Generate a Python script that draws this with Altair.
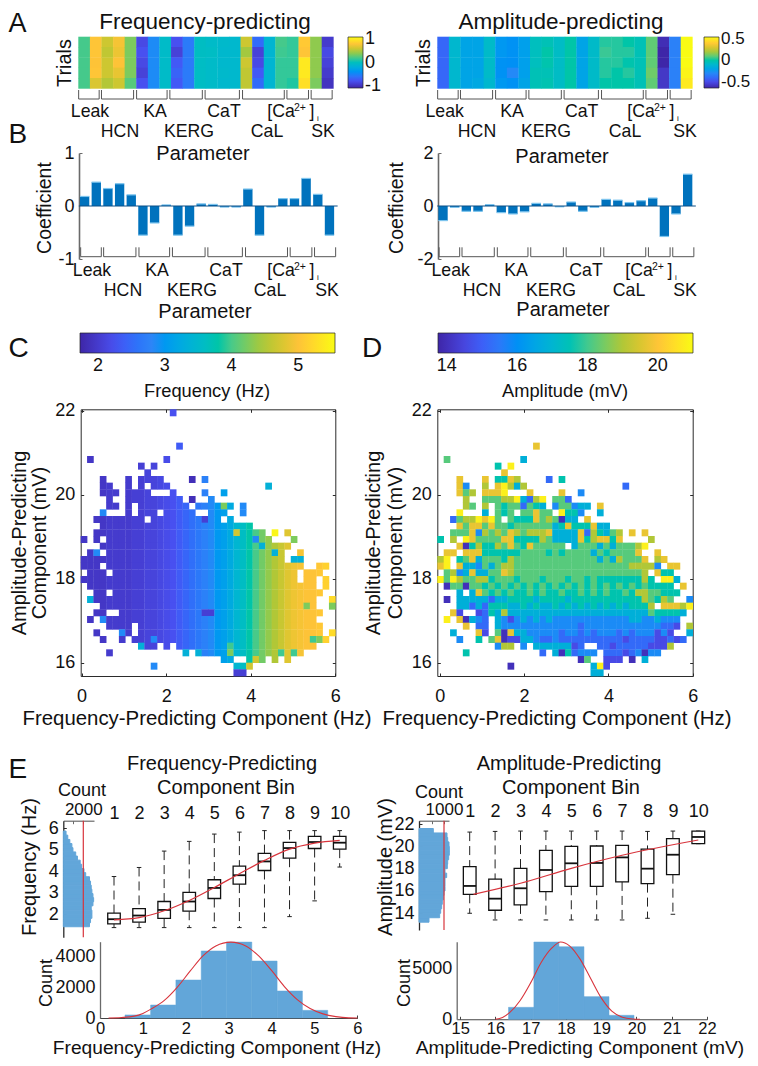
import altair as alt
import pandas as pd

W, H = 742, 1050
FONT = "Liberation Sans"
PARULA = ["#3e26a8", "#4852f4", "#2e87f7", "#12b1d6", "#37c897", "#abc739", "#fec338", "#f9fb14"]
BAR = "#0072bd"
CAP = "#7cc4ee"
HIST = "#62a6d9"
RED = "#d8343c"
GREY = "#6a6a6a"
DARK = "#2b2b2b"
SIGNED = "(datum.value < 0 ? '-' : '') + abs(datum.value)"

GROUP_START = [0.03, 2.0, 5.03, 7.9, 10.94, 14.17, 18.0, 20.09]
GROUP_END = [1.8, 4.77, 7.66, 10.7, 13.9, 17.77, 19.86, 21.9]

FREQ_TRIALS = [
    [.2, .2, .2, .2, .2], [.8, .8, .78, .8, .65], [.6, .55, .6, .6, .5], [.75, .72, .78, .7, .6],
    [.35, .35, .35, .35, .25], [-.85, -.8, -.85, -.9, -.8], [-.45, -.45, -.45, -.45, -.45],
    [-.05, -.05, -.05, -.05, -.05], [-.8, -.9, -.75, -.7, -.75], [-.55, -.55, -.55, -.55, -.55],
    [-.02, -.02, -.03, -.03, -.03], [-.05, -.03, -.05, -.05, -.05], [-.07, -.08, -.08, -.07, -.08],
    [-.08, -.08, -.08, -.08, -.08], [.6, .45, .6, .55, .55], [-.65, -.9, -.85, -.75, -.65],
    [-.12, -.12, -.12, -.12, -.12], [.2, .18, .15, .15, .15], [.15, .15, .15, .15, .12],
    [.82, .8, 1.0, 1.0, .95], [.4, .4, .4, .4, .35], [-.95, -.85, -.9, -.95, -1.0],
]
AMP_TRIALS = [
    [-.42, -.42, -.42, -.42, -.42], [-.1, -.1, -.1, -.1, -.1], [-.2, -.2, -.2, -.2, -.2], [-.2, -.2, -.2, -.2, -.18],
    [-.08, -.08, -.08, -.08, -.1], [-.25, -.25, -.27, -.27, -.25], [-.27, -.27, -.28, -.3, -.27],
    [-.22, -.22, -.22, -.22, -.2], [-.05, -.05, -.05, -.03, -.03], [-.03, 0, -.01, -.03, -.02],
    [-.07, -.07, -.07, -.07, -.07], [0, 0, 0, 0, 0], [-.2, -.2, -.2, -.2, -.2], [-.08, -.08, -.08, -.08, -.08],
    [.02, .04, .02, .02, .0], [.02, .02, .02, .0, .0], [.0, .02, -.01, .02, .0], [-.03, -.03, -.03, -.03, -.03],
    [.1, .1, .1, .12, .1], [-.62, -.65, -.65, -.58, -.58], [-.33, -.33, -.33, -.33, -.33], [.55, .55, .55, .53, .5],
]
FREQ_COEF = [.18, .45, .33, .42, .21, -.55, -.32, .02, -.55, -.38, .04, .03, -.02, -.02, .32, -.55, -.02, .14, .14, .52, .22, -.55]
AMP_COEF = [-.55, -.05, -.2, -.2, .05, -.25, -.3, -.22, .1, .08, -.03, .15, -.2, -.05, .25, .22, .13, .2, .3, -1.15, -.3, 1.2]

FREQ_LEVELS = [1.85, 2.05, 2.4, 2.85, 3.35, 3.95, 4.25, 4.7, 5.1, 5.5]
AMP_LEVELS = [14.0, 14.6, 15.2, 15.9, 16.8, 17.6, 18.2, 19.0, 19.7, 20.8]
FREQ_TYPICAL = [1.95, 1.95, 1.95, 1.95, 2.0, 2.0, 2.0, 2.0, 2.05, 2.05, 2.1, 2.1, 2.15, 2.2, 2.25, 2.35, 2.45, 2.55, 2.65, 2.75,
                2.85, 3.0, 3.1, 3.25, 3.45, 3.6, 3.8, 4.0, 4.2, 4.35, 4.5, 4.65, 4.8, 4.9, 4.95, 5.0, 5.0, 5.05, 5.15, 5.25]

FREQ_ROWS = {
    0: "14:0", 5: "15:3", 7: "1:1 13:1", 8: "9:1 11:1", 9: "10:1",
    10: "3:1 7:0 9:0111 17:0 19:3",
    11: "3:11 7:1 9:1 11:111 29:4",
    12: "3:111 7:11 9:20 14:1 19:3 22:4",
    13: "4:0 7:11 9:1111111 17:0 20:3",
    14: "4:01 7:1 9:11121222 18:333463 25:3",
    15: "3:3 7:2 9:222 13:11122 20:444 25:3",
    16: "2:00 4:11111 9:1 11:111 14:0 15:2222 19:1 20:44 23:4",
    17: "3:2010 7:1 8:0 9:111111 15:22222 20:33 22:33 24:44 26:5",
    18: "2:11 4:10 6:11111111 14:222222 20:444 23:4 24:7 25:4 26:5 27:4 28:5 30:9 32:7",
    19: "0:1 2:0 4:111111111 13:222222 19:3333 23:454 26:535 29:7 33:6",
    20: "3:000 6:1 7:0 8:111111111 17:222 20:4444 24:55 26:444 29:7 30:5 31:77",
    21: "1:13 4:11111111111 15:22222 20:3344 24:5 25:4 26:44554 31:7 34:9",
    22: "0:111 3:0 4:11111111111 15:222222 21:444 24:5555 28:6 29:7 30:5 31:7 33:44",
    23: "0:001 4:11111111111 15:22222 20:4444 24:5555 28:6677 32:888 37:77",
    24: "1:222 5:222 8:0 9:1111111 16:2222 20:3333 24:5555 28:666 31:777 35:77 37:8",
    25: "0:0 1:22 3:11111 8:11111111 16:2222 20:3333 24:5555 28:6666 32:77 35:77 38:8",
    26: "1:000 4:2 5:101 8:11111111 16:22222 21:333 24:5555 28:66666 33:7777 38:8",
    27: "2:11 5:12 7:11111111 15:222222 21:333 24:5555 28:6666 32:777777",
    28: "1:4 2:1 3:010101 9:1111111 16:22222 21:333 24:555 27:6666 31:777777 39:9",
    29: "3:11 5:1111 9:1111111 16:22222 21:333 24:555 27:66 29:777777 35:6 36:7 39:6",
    30: "2:00 6:00 8:111 11:1 12:111111111 21:333 24:555 27:66 29:77777 34:8888",
    31: "1:0 3:3 4:11111111 12:222222222 21:333 24:555 27:66 29:77777 34:888",
    32: "4:000 7:2 9:121 12:222222222 21:444 24:55 26:66 28:66 30:77777 35:888",
    33: "2:1 6:3 7:0 9:22 11:1 12:22 14:1 15:222222 21:444 24:555 27:66 29:77777 34:8888 39:8",
    34: "3:1 6:1 8:11 10:0 11:322 14:3333333 21:4444 25:6666 29:7777777 36:568",
    35: "9:4 10:00 13:0 15:33 17:2 18:33 20:2 21:44 23:5 24:555 27:66 29:5 30:777 33:77 35:9 36:7",
    36: "4:1 16:4 18:443 21:44 23:6 24:45 26:55 28:7 29:5 30:55 32:7 33:5 34:7",
    37: "22:33 26:575 30:7 32:8",
    38: "11:3 24:467",
    39: "24:11",
}
AMP_ROWS = {
    5: "15:8", 7: "1:6 13:4", 8: "9:5 11:9", 9: "10:8",
    10: "3:8 7:8 9:55 11:87 17:2 19:5",
    11: "3:83 7:7 9:89 11:747 29:2",
    12: "3:867 7:88 9:89 14:8 19:8 22:3",
    13: "4:7 7:666 10:77 12:9 13:42 15:7 16:9 18:66 20:2",
    14: "4:76 7:7 9:6566 13:2 14:654 18:3 19:66 21:344 25:8",
    15: "3:9 7:4 9:656 13:66 15:8 16:66 19:9 20:55 22:3 25:4",
    16: "2:2 3:6 4:77 6:9 7:8 8:9 9:6 11:6 12:555 15:8 16:676 19:0 20:44 23:8",
    17: "3:868 6:8 7:68 9:665 12:666 15:666 18:45 20:8 21:55 23:5 24:8 25:44",
    18: "2:66 4:68 6:3 7:7 8:676 11:87 13:6 14:777 17:8 18:4 19:444 22:8 23:2 24:75 26:46 28:7 30:8 32:8",
    19: "0:5 2:7 4:98 6:6666 10:88 12:5555 16:76 18:4444 22:8 23:57 25:88 27:5 28:8 33:7",
    20: "3:8 4:0 5:57 7:55 9:7 10:68 12:65 14:8 15:66666 21:4 22:666 25:4 26:6 27:4 28:666 31:7 32:9",
    21: "1:88 4:8 5:88 7:555555 13:6666 17:5 18:6 19:5 20:66 22:66 24:4 25:6 26:5 27:666 30:6 31:8 34:8",
    22: "0:79 3:568 6:4 7:666 10:57 12:666666666666 24:6 25:4 26:6 27:4 28:7 29:666 32:8 34:78",
    23: "0:89 3:8 4:44 6:3 7:6 8:4 9:6 10:77 12:666666666666 24:666666 30:7777 34:3 36:88",
    24: "1:67 3:3 4:4 5:8 6:44 8:66 10:8 11:7 12:66666666666666666666 32:7 34:8 35:55",
    25: "0:9 1:6 2:9 3:7 4:66 6:77 8:5 9:6 10:665666566656656 25:5555555 32:7 33:5 35:99 37:4",
    26: "1:0 2:66 4:0 5:6656 9:5656565656565656565656565 34:555 38:8",
    27: "3:4 5:4 6:8 7:6 8:56565565655655656565565 31:77 33:66 35:555",
    28: "1:0 3:44444 8:2 9:44 11:555545555455555555555 32:7 33:65 35:7 36:6 39:3",
    29: "3:44 5:2 6:4 7:2 8:555 11:4454544545454545454555 33:7 35:888 38:7 39:9",
    30: "2:8 3:1 6:1 7:2 8:54 10:7 11:4 12:444444444444444444444 33:6 34:5555 38:4",
    31: "1:9 3:8 4:0 5:432 9:43 11:1 12:3434343333333333334433433 37:3",
    32: "4:8 6:2 7:2 9:433 12:33333333332333333333333 35:22 37:1 39:7",
    33: "2:4 6:8 7:1 9:608 12:443 15:3333233232333232333 34:1 35:3 36:1 39:4",
    34: "3:3 6:5 8:68 10:011 13:44 15:3223222222222212222 34:11212",
    35: "9:3 10:77 13:3 15:444444 21:12 25:22 27:1 28:22222 33:111 36:7",
    36: "4:5 16:2 18:40 20:5 21:2 22:333 26:222 29:1 30:2 31:3 32:0 33:33",
    37: "22:06 26:111 30:0 32:4",
    38: "11:0 24:491",
    39: "24:44",
}

BINS = list(range(1, 11))
F_HI = [3.75, 4.17, 4.93, 5.38, 5.72, 5.81, 5.88, 5.88, 5.88, 5.88]
F_Q3 = [2.05, 2.26, 2.59, 3.01, 3.60, 4.23, 4.82, 5.33, 5.61, 5.61]
F_MED = [1.77, 1.94, 2.20, 2.59, 3.22, 3.81, 4.45, 5.07, 5.35, 5.32]
F_Q1 = [1.55, 1.63, 1.81, 2.14, 2.73, 3.40, 4.03, 4.60, 5.05, 5.02]
F_LO = [1.38, 1.38, 1.38, 1.38, 1.38, 1.38, 1.38, 1.89, 2.62, 4.19]
F_FIT = [1.74, 1.84, 2.16, 2.64, 3.24, 3.88, 4.50, 5.02, 5.30, 5.43]

A_HI = [21.28, 21.34, 21.37, 21.37, 21.37, 21.37, 21.37, 21.34, 21.37, 21.37]
A_Q3 = [18.18, 17.07, 18.03, 19.64, 20.0, 20.03, 20.09, 19.76, 20.69, 21.37]
A_MED = [16.45, 15.31, 16.24, 17.88, 18.48, 18.51, 19.01, 18.0, 19.25, 20.84]
A_Q1 = [15.70, 14.27, 14.75, 15.94, 16.42, 16.42, 16.81, 16.66, 17.46, 20.24]
A_LO = [14.0, 13.4, 13.4, 13.4, 13.4, 13.4, 13.4, 13.55, 13.91, 20.24]
A_FIT_X = [1.15, 3, 5, 7, 10]
A_FIT = [15.7, 16.69, 18.03, 19.2, 20.57]

F_SIDE_EDGES = [1.42, 1.61, 1.81, 2.0, 2.19, 2.39, 2.58, 2.77, 2.96, 3.16, 3.35, 3.54, 3.74, 3.93, 4.12, 4.32, 4.51, 4.7, 4.89, 5.09, 5.28, 5.47, 5.67, 5.86]
F_SIDE = [2620, 2724, 2862, 2862, 2793, 2966, 3034, 2966, 2862, 2793, 2724, 2620, 2241, 2069, 1828, 1690, 1414, 1241, 966, 862, 655, 448, 276]
A_SIDE_EDGES = [13.2, 13.6, 14.0, 14.4, 14.8, 15.2, 15.6, 16.0, 16.4, 16.8, 17.2, 17.6, 18.0, 18.4, 18.8, 19.2, 19.6, 20.0, 20.4, 20.8, 21.2, 21.6]
A_SIDE = [400, 827, 867, 907, 933, 973, 1000, 1040, 1040, 1040, 1107, 1040, 1133, 1147, 1187, 1213, 1213, 1200, 1147, 1120, 573]

F_H_EDGES = [.583, 1.18, 1.77, 2.36, 2.95, 3.54, 4.13, 4.72, 5.31]
F_H = [200, 846, 2475, 4370, 4950, 3713, 1760, 500]
A_H_EDGES = [16.37, 17.09, 17.80, 18.51, 19.22, 19.93]
A_H = [1176, 7582, 7124, 2222, 392]

F_CURVE_X = [.2, .5, .8, 1.0, 1.2, 1.5, 1.8, 2.1, 2.4, 2.7, 3.05, 3.4, 3.7, 4.0, 4.3, 4.6, 4.9, 5.2, 5.5, 5.8, 6.0]
F_CURVE = [0, 30, 120, 300, 600, 1150, 2000, 3050, 4050, 4700, 4950, 4700, 4050, 3100, 2050, 1200, 620, 270, 90, 10, 0]
A_CURVE_X = [16.0, 16.2, 16.4, 16.7, 17.0, 17.3, 17.6, 17.85, 18.1, 18.4, 18.7, 19.0, 19.3, 19.6, 19.9, 20.1]
A_CURVE = [0, 180, 650, 1850, 3600, 5600, 7000, 7580, 7200, 5900, 4000, 2100, 800, 200, 30, 0]

layers = []


def sc(dom, r):
    return alt.Scale(domain=list(dom), range=[r[0] - 8, r[1] - 8], nice=False, zero=False)


def stops(lo, hi):
    n = len(PARULA)
    return [lo + (hi - lo) * i / (n - 1) for i in range(n)]


def cmap(lo, hi):
    return alt.Scale(domain=stops(lo, hi), range=PARULA, nice=False, zero=False, clamp=True)


def txt(s, x, y, size=18, angle=0, baseline="alphabetic", align="center", color="#111111"):
    props = dict(font=FONT, fontSize=size, baseline=baseline, align=align, color=color)
    if angle:
        props["angle"] = angle
    layers.append(alt.Chart(pd.DataFrame({"t": [s]})).mark_text(**props).encode(
        text="t:N", x=alt.value(x - 8), y=alt.value(y - 8)))


def axis(channel, dom, r, pos, orient, values=(), labels=False, ticks=False, domain=True,
         color=DARK, width=1.0, pad=3, tick=3, size=18):
    if orient == "bottom":
        off = pos - 8 - H
    elif orient == "right":
        off = pos - 8 - W
    else:
        off = -(pos - 8)
    ax = alt.Axis(orient=orient, offset=off, values=list(values), labels=labels, ticks=ticks, domain=domain,
                  grid=False, title=None, tickSize=tick, tickColor=color, tickWidth=width, domainColor=color,
                  domainWidth=width, labelFont=FONT, labelFontSize=size, labelColor="#111111", labelPadding=pad,
                  labelOverlap=False, labelFlush=False, labelExpr=SIGNED)
    df = pd.DataFrame({"v": list(dom)})
    ch = alt.X("v:Q", scale=sc(dom, r), axis=ax) if channel == "x" else alt.Y("v:Q", scale=sc(dom, r), axis=ax)
    layers.append(alt.Chart(df).mark_point(opacity=0).encode(**{channel: ch}))


def parameter_labels(xs1, xs2, y1, y2, yparam, xparam):
    for name, x in zip(["Leak", "KA", "CaT"], xs1[:3]):
        txt(name, x, y1, 17.7)
    cx = xs1[3]
    txt("[Ca", cx - 21, y1, 17.7)
    txt("2+", cx - 2, y1 - 6, 10.5)
    txt("]", cx + 10, y1, 17.7)
    txt("i", cx + 16, y1 + 4, 8)
    for name, x in zip(["HCN", "KERG", "CaL", "SK"], xs2):
        txt(name, x, y2, 17.7)
    txt("Parameter", xparam, yparam, 20)


def brackets(r, yt, yb, shift=0.0):
    dom = [0, 22]
    df = pd.DataFrame({"s": [v + shift for v in GROUP_START], "e": [v + shift for v in GROUP_END]})
    base = alt.Chart(df).mark_rule(color="#555555", strokeWidth=1)
    layers.append(base.encode(x=alt.X("s:Q", scale=sc(dom, r), axis=None), x2="e:Q", y=alt.value(yb - 8)))
    layers.append(base.encode(x=alt.X("s:Q", scale=sc(dom, r), axis=None), y=alt.value(yt - 8), y2=alt.value(yb - 8)))
    layers.append(base.encode(x=alt.X("e:Q", scale=sc(dom, r), axis=None), y=alt.value(yt - 8), y2=alt.value(yb - 8)))


def trials(values, rx, ry, lo, hi, lx, ly, ticks, size=18):
    rows = []
    for c, col in enumerate(values):
        for t, v in enumerate(col):
            rows.append({"c": c, "c2": c + 1.03, "t": t, "t2": t + 1.04, "v": v})
    leg = alt.Legend(orient="none", legendX=lx - 8, legendY=ly - 8, direction="vertical", title=None, values=ticks,
                     gradientLength=51, gradientThickness=15, gradientStrokeColor="#222222", gradientStrokeWidth=0.7,
                     labelFont=FONT, labelFontSize=size, labelColor="#111111", labelOffset=2, labelOverlap=False,
                     labelExpr=SIGNED)
    layers.append(alt.Chart(pd.DataFrame(rows)).mark_rect().encode(
        x=alt.X("c:Q", scale=sc([0, 22], rx), axis=None), x2="c2:Q",
        y=alt.Y("t:Q", scale=sc([0, 5], ry), axis=None), y2="t2:Q",
        color=alt.Color("v:Q", scale=cmap(lo, hi), legend=leg)))


def coef(values, rx, ry, dom, ticks, axis_x):
    df = pd.DataFrame({"a": [i + .1 for i in range(22)], "b": [i + .9 for i in range(22)], "v": values,
                       "z": [0] * 22})
    X = alt.X("a:Q", scale=sc([0, 22], rx), axis=None)
    Y = alt.Y("v:Q", scale=sc(dom, ry), axis=None)
    layers.append(alt.Chart(df).mark_rect(color=BAR).encode(x=X, x2="b:Q", y=Y, y2="z:Q"))
    layers.append(alt.Chart(df).mark_rule(color=CAP, strokeWidth=1.2).encode(x=X, x2="b:Q", y=Y))
    z = pd.DataFrame({"x": [0.0], "x2": [22.2], "y": [0]})
    layers.append(alt.Chart(z).mark_rule(color="#0b4f86", strokeWidth=1).encode(
        x=alt.X("x:Q", scale=sc([0, 22], rx), axis=None), x2="x2:Q", y=alt.Y("y:Q", scale=sc(dom, ry), axis=None)))
    axis("y", dom, ry, axis_x, "left", ticks, labels=True, ticks=False, domain=True, color=GREY, width=1.6, pad=5)
    axis("y", dom, ry, axis_x, "right", [ticks[0], ticks[-1]], ticks=True, domain=False, color=GREY, width=1, tick=3)


def heat(rows, levels, rx, dom_x, lo, hi, lx, ticks, typical=None):
    ry = [676, 409.3]
    dom_y = [15.69, 22.04]
    dx = (dom_x[1] - dom_x[0]) / 40
    dy = (dom_y[1] - dom_y[0]) / 40
    cells = []
    for r, row in rows.items():
        for tok in row.split():
            start, digits = tok.split(":")
            for i, d in enumerate(digits):
                c = int(start) + i
                v = levels[int(d)]
                if typical and abs(v - typical[c]) < 0.65:
                    v = typical[c]
                cells.append({"x": dom_x[0] + c * dx, "x2": dom_x[0] + (c + 1.05) * dx,
                              "y": dom_y[1] - r * dy, "y2": dom_y[1] - (r + 1.05) * dy, "v": v})
    leg = alt.Legend(orient="none", legendX=lx - 8, legendY=333 - 8, direction="horizontal", title=None, values=ticks,
                     gradientLength=255, gradientThickness=20, gradientStrokeColor="#222222", gradientStrokeWidth=0.7,
                     labelFont=FONT, labelFontSize=18, labelColor="#111111", labelOffset=4, labelOverlap=False, format="d")
    layers.append(alt.Chart(pd.DataFrame(cells)).mark_rect().encode(
        x=alt.X("x:Q", scale=sc(dom_x, rx), axis=None), x2="x2:Q",
        y=alt.Y("y:Q", scale=sc(dom_y, ry), axis=None), y2="y2:Q",
        color=alt.Color("v:Q", scale=cmap(lo, hi), legend=leg)))
    xt, yt = [0, 2, 4, 6], [16, 18, 20, 22]
    axis("x", dom_x, rx, 676, "bottom", xt, labels=True, pad=11)
    axis("x", dom_x, rx, 676, "top", xt, ticks=True, domain=False)
    axis("x", dom_x, rx, 409.3, "bottom", xt, ticks=True)
    axis("y", dom_y, ry, rx[0], "left", yt, labels=True, pad=6)
    axis("y", dom_y, ry, rx[0], "right", yt, ticks=True, domain=False)
    axis("y", dom_y, ry, rx[1], "left", yt, ticks=True)


def side(edges, counts, rx, dom_x, ry, dom_y, ticks, tick_x):
    df = pd.DataFrame({"a": edges[:-1], "b": edges[1:], "c": counts, "z": [0] * len(counts)})
    layers.append(alt.Chart(df).mark_rect(color=HIST, stroke=HIST, strokeWidth=1).encode(
        x=alt.X("c:Q", scale=sc(dom_x, rx), axis=None), x2="z:Q",
        y=alt.Y("a:Q", scale=sc(dom_y, ry), axis=None), y2="b:Q"))
    layers.append(alt.Chart(pd.DataFrame({"x": [tick_x]})).mark_rule(color=RED, strokeWidth=1.2).encode(
        x=alt.X("x:Q", scale=sc(dom_x, rx), axis=None), y=alt.value(ry[1] - 8), y2=alt.value(ry[0] - 8)))
    axis("x", dom_x, rx, ry[1], "top", [tick_x], labels=True, pad=2, color=GREY, width=1.2, size=17)
    axis("x", dom_x, rx, ry[1], "bottom", [tick_x / 2, tick_x], ticks=True, domain=False, color=GREY)
    axis("y", dom_y, ry, rx[0], "left", ticks, labels=True, pad=5, color=DARK, width=1.3)
    axis("y", dom_y, ry, rx[0], "right", ticks, ticks=True, domain=False)


def boxes(hi, q3, med, q1, lo, fit_x, fit, rx, ry, dom_y, label_y):
    dom_x = [1, 10]
    df = pd.DataFrame({"b": BINS, "l": [b - .25 for b in BINS], "r": [b + .25 for b in BINS],
                       "cl": [b - .09 for b in BINS], "cr": [b + .09 for b in BINS],
                       "hi": hi, "q3": q3, "med": med, "q1": q1, "lo": lo})
    sx = sc(dom_x, rx)
    sy = sc(dom_y, ry)
    for a, b in (("hi", "q3"), ("q1", "lo")):
        layers.append(alt.Chart(df).mark_rule(color="#222222", strokeWidth=1, strokeDash=[9, 5]).encode(
            x=alt.X("b:Q", scale=sx, axis=None), y=alt.Y(f"{a}:Q", scale=sy, axis=None), y2=f"{b}:Q"))
    for a in ("hi", "lo"):
        layers.append(alt.Chart(df).mark_rule(color="#222222", strokeWidth=1).encode(
            x=alt.X("cl:Q", scale=sx, axis=None), x2="cr:Q", y=alt.Y(f"{a}:Q", scale=sy, axis=None)))
    layers.append(alt.Chart(df).mark_rect(fill="#ffffff", stroke="#111111", strokeWidth=1.3).encode(
        x=alt.X("l:Q", scale=sx, axis=None), x2="r:Q", y=alt.Y("q3:Q", scale=sy, axis=None), y2="q1:Q"))
    layers.append(alt.Chart(df).mark_rule(color="#111111", strokeWidth=1.8).encode(
        x=alt.X("l:Q", scale=sx, axis=None), x2="r:Q", y=alt.Y("med:Q", scale=sy, axis=None)))
    layers.append(alt.Chart(pd.DataFrame({"x": fit_x, "y": fit})).mark_line(
        color=RED, strokeWidth=1.2, interpolate="monotone").encode(
        x=alt.X("x:Q", scale=sx, axis=None), y=alt.Y("y:Q", scale=sy, axis=None)))
    axis("x", dom_x, rx, label_y, "top", BINS, labels=True, domain=False, pad=0)


def hist(edges, counts, curve_x, curve, rx, dom_x, ry, dom_y, xt, yt, pad=2):
    df = pd.DataFrame({"a": edges[:-1], "b": edges[1:], "c": counts, "z": [0] * len(counts)})
    sx, sy = sc(dom_x, rx), sc(dom_y, ry)
    layers.append(alt.Chart(df).mark_rect(color=HIST, stroke=HIST, strokeWidth=0.5).encode(
        x=alt.X("a:Q", scale=sx, axis=None), x2="b:Q", y=alt.Y("c:Q", scale=sy, axis=None), y2="z:Q"))
    layers.append(alt.Chart(pd.DataFrame({"x": curve_x, "y": curve})).mark_line(
        color=RED, strokeWidth=1.1, interpolate="monotone").encode(
        x=alt.X("x:Q", scale=sx, axis=None), y=alt.Y("y:Q", scale=sy, axis=None)))
    axis("x", dom_x, rx, ry[0], "bottom", xt, labels=True, pad=pad, color="#444444", width=1.1, size=16.5)
    axis("x", dom_x, rx, ry[0], "top", xt, ticks=True, domain=False, color="#444444")
    axis("y", dom_y, ry, rx[0], "left", yt, labels=True, pad=5, color=GREY, width=1.3)


# Panel letters
for s, x, y, z in (("A", 8.5, 32, 27), ("B", 8.5, 143, 28), ("C", 8.5, 357, 28), ("D", 362, 357, 28), ("E", 8.5, 778, 28)):
    txt(s, x, y, z, align="left")

# A
txt("Frequency-predicting", 205, 29, 22.5)
txt("Amplitude-predicting", 561, 29, 22.5)
trials(FREQ_TRIALS, [78.3, 333.3], [36.7, 88.3], -1.1, 1.1, 348, 37, [-1, 0, 1])
trials(AMP_TRIALS, [437.3, 692.3], [36.7, 88.3], -.65, .55, 704, 37, [-.5, 0, .5], size=17)
brackets([78.3, 333.3], 90, 99)
brackets([437.3, 692.3], 90, 99)
txt("Trials", 71, 63, 20, 270)
txt("Trials", 430, 63, 20, 270)
parameter_labels([90, 155, 224, 302], [120, 189, 267, 323], 117, 137, 160, 203)
parameter_labels([444.7, 512, 581.7, 662], [477, 546, 625, 685], 117, 137, 163, 562)

# B
coef(FREQ_COEF, [78.8, 335.3], [259, 153], [-1, 1], [-1, 0, 1], 79)
coef(AMP_COEF, [437.2, 693.5], [259, 153], [-2, 2], [-2, 0, 2], 438)
brackets([78.8, 335.3], 247.3, 256.7, 0.13)
brackets([437.2, 693.5], 247.3, 256.7, 0.13)
txt("Coefficient", 51, 208, 19.5, 270)
txt("Coefficient", 403, 208, 19.5, 270)
parameter_labels([92, 157, 226, 302], [123, 192, 270, 327], 276, 296, 318, 205)
parameter_labels([450.7, 516, 586, 660], [482, 551, 629, 685], 276, 296, 316, 563)

# C, D
heat(FREQ_ROWS, FREQ_LEVELS, [80.7, 335.3], [-.02, 6.0], 1.73, 5.55, 80, [2, 3, 4, 5], FREQ_TYPICAL)
heat(AMP_ROWS, AMP_LEVELS, [437.3, 692.7], [-.06, 6.0], 13.75, 21.0, 438, [14, 16, 18, 20])
txt("Frequency (Hz)", 207, 397, 18.3)
txt("Amplitude (mV)", 565, 397, 18.3)
txt("Amplitude-Predicting", 26, 543, 20, 270)
txt("Component (mV)", 46, 543, 20, 270)
txt("Amplitude-Predicting", 380, 543, 20, 270)
txt("Component (mV)", 402, 543, 20, 270)
txt("Frequency-Predicting Component (Hz)", 197, 725, 20.4)
txt("Frequency-Predicting Component (Hz)", 557, 725, 20.4)

# E
txt("Frequency-Predicting", 222, 770, 20)
txt("Component Bin", 226, 794, 20)
txt("Amplitude-Predicting", 569, 770, 20)
txt("Component Bin", 571, 794, 20)
txt("Count", 82, 796, 18)
txt("Count", 439, 798, 18)
txt("Frequency (Hz)", 36, 867, 20, 270)
txt("Amplitude (mV)", 392, 867, 20, 270)
txt("Count", 52, 983, 18, 270)
txt("Count", 410, 983, 18, 270)
txt("Frequency-Predicting Component (Hz)", 217, 1054, 19.2)
txt("Amplitude-Predicting Component (mV)", 580, 1054, 19.2)

side(F_SIDE_EDGES, F_SIDE, [63.3, 94], [0, 3070], [937.3, 820.7], [.93, 6.34], [2, 3, 4, 5, 6], 2000)
side(A_SIDE_EDGES, A_SIDE, [419, 449], [0, 1200], [930, 820.7], [12.5, 22.3], [14, 16, 18, 20, 22], 1000)
boxes(F_HI, F_Q3, F_MED, F_Q1, F_LO, BINS, F_FIT, [114, 339.7], [937.3, 820.7], [.93, 6.34], 822)
boxes(A_HI, A_Q3, A_MED, A_Q1, A_LO, A_FIT_X, A_FIT, [469.7, 698.3], [930, 820.7], [12.5, 22.3], 820)
hist(F_H_EDGES, F_H, F_CURVE_X, F_CURVE, [100, 357.3], [0, 6], [1018, 941.7], [0, 4975], [0, 1, 2, 3, 4, 5, 6], [0, 2000, 4000])
hist(A_H_EDGES, A_H, A_CURVE_X, A_CURVE, [456.7, 707], [14.9, 22], [1019.3, 941.7], [0, 7614], [15, 16, 17, 18, 19, 20, 21, 22], [0, 5000], pad=1)

chart = alt.layer(*layers).properties(
    width=W, height=H, padding=0, background="white",
    autosize=alt.AutoSizeParams(type="none"),
).resolve_scale(x="independent", y="independent", color="independent").configure_view(stroke=None)

chart.save("out.html", embed_options={"renderer": "svg", "actions": False})
